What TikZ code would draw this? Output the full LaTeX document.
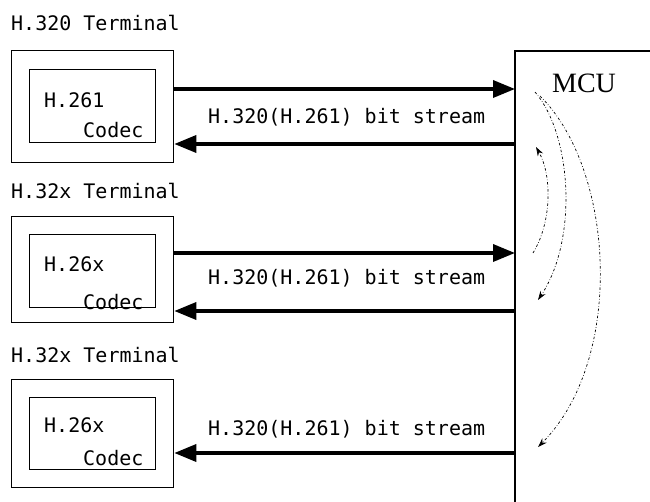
\documentclass[tikz,border=0pt]{standalone}
\usepackage{fontspec}
\setmainfont{Liberation Serif}
\newfontfamily\gfont{DejaVu Sans Mono}
\usetikzlibrary{arrows.meta}
\begin{document}
\begin{tikzpicture}[x=1pt,y=-1pt,
  obox/.style={draw, line width=1.3pt, inner sep=0, anchor=north west, minimum width=162pt},
  ibox/.style={draw, line width=1.1pt, inner sep=0, anchor=north west, minimum width=126pt},
  lbl/.style={font=\gfont\fontsize{20}{22}\selectfont, inner sep=0, anchor=base west},
  clbl/.style={font=\gfont\fontsize{20}{22}\selectfont, inner sep=0, anchor=base west},
  flow/.style={line width=3.5pt, -{Triangle[length=22pt,width=17pt]}},
  mcurv/.style={line width=0.7pt, dash pattern=on 2.5pt off 2pt on 0.6pt off 2pt, -{Stealth[length=9pt,width=6pt]}}]
\useasboundingbox (0,0) rectangle (650,502);

% MCU
\node[inner sep=0, anchor=north west, minimum width=135pt, minimum height=451pt] (mcu) at (515,51) {};
\draw[line width=2pt] (mcu.south west) -- (mcu.north west) -- (mcu.north east);
\node[font=\fontsize{28}{30}\selectfont, inner sep=0, anchor=base] (mcut) at (584,93) {MCU};

% Block 1
\node[lbl] (t1) at (11,31) {H.320 Terminal};
\node[obox, minimum height=112pt] (o1) at (11,50) {};
\node[ibox, minimum height=73pt] (i1) at (29,69) {};
\node[clbl] (c1a) at (44,108) {H.261};
\node[clbl] (c1b) at (83,138) {Codec};
\draw[flow] (o1.east |- 0,89) -- (mcu.west |- 0,89);
\draw[flow] (mcu.west |- 0,144) -- (o1.east |- 0,144);
\node[lbl] (s1) at (208,124) {H.320(H.261) bit stream};

% Block 2
\node[lbl] (t2) at (11,199) {H.32x Terminal};
\node[obox, minimum height=106pt] (o2) at (11,216) {};
\node[ibox, minimum height=73pt] (i2) at (29,234) {};
\node[clbl] (c2a) at (44,272) {H.26x};
\node[clbl] (c2b) at (83,310) {Codec};
\draw[flow] (o2.east |- 0,253) -- (mcu.west |- 0,253);
\draw[flow] (mcu.west |- 0,311) -- (o2.east |- 0,311);
\node[lbl] (s2) at (208,285) {H.320(H.261) bit stream};

% Block 3
\node[lbl] (t3) at (11,362) {H.32x Terminal};
\node[obox, minimum height=108pt] (o3) at (11,379) {};
\node[ibox, minimum height=72pt] (i3) at (29,397) {};
\node[clbl] (c3a) at (44,432) {H.26x};
\node[clbl] (c3b) at (83,465) {Codec};
\draw[flow] (mcu.west |- 0,453) -- (o3.east |- 0,453);
\node[lbl] (s3) at (208,435) {H.320(H.261) bit stream};

% MCU internal flows
\coordinate (pa0) at (533,253);
\coordinate (pa1) at (536,147);
\coordinate (pb0) at (535,92);
\coordinate (pb1) at (538,300);
\coordinate (pc0) at (540,96);
\coordinate (pc1) at (538,447);
\draw[mcurv] (pa0) .. controls (552,222) and (552,175) .. (pa1);
\draw[mcurv] (pb0) .. controls (572,135) and (578,240) .. (pb1);
\draw[mcurv] (pc0) .. controls (615,170) and (625,360) .. (pc1);
\end{tikzpicture}
\end{document}
